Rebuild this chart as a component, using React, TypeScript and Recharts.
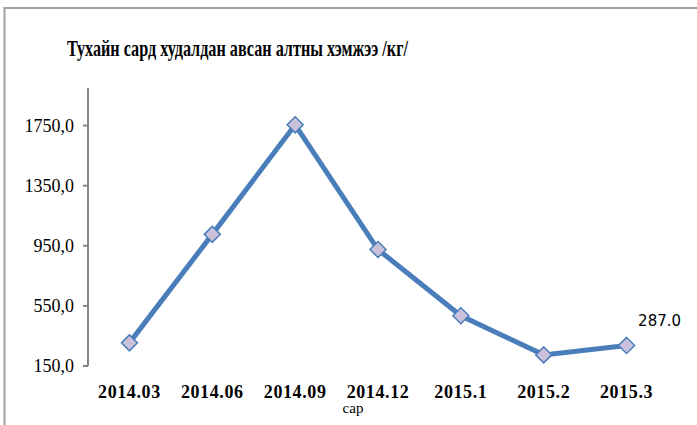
import React from 'react';
import { LineChart, Line, XAxis, YAxis, LabelList } from 'recharts';

const categories = ['2014.03', '2014.06', '2014.09', '2014.12', '2015.1', '2015.2', '2015.3'];
const values = [304, 1026, 1755, 925, 484, 224, 287];
const yTicks = [150, 550, 950, 1350, 1750];
const boundaryTicks = [0, 1, 2, 3, 4, 5, 6, 7];
const pointLabels = ['', '', '', '', '', '', '287.0'];
const title = 'Тухайн сард худалдан авсан алтны хэмжээ /кг/';
const xTitle = 'сар';

const data = categories.map((c, i) => ({ cat: c, value: values[i], lbl: pointLabels[i] }));

const LINE = '#4a7ebb';
const AXIS = '#868686';
const SERIF = '"Liberation Serif", "Times New Roman", serif';

const Diamond = (props: any) => {
  const { cx, cy } = props;
  if (cx == null || cy == null) return null;
  const r = 8;
  return (
    <polygon
      points={`${cx},${cy - r} ${cx + r},${cy} ${cx},${cy + r} ${cx - r},${cy}`}
      fill="#ccc1da"
      stroke={LINE}
      strokeWidth={1.5}
    />
  );
};

const fmtY = (v: number) => v.toFixed(1).replace('.', ',');

const PointLabel = (props: any) => {
  const { x, y, value } = props;
  if (!value) return null;
  return (
    <text x={x + 33} y={y - 19} textAnchor="middle" fontFamily='"DejaVu Sans", sans-serif' fontSize={15} fill="#000">
      {value}
    </text>
  );
};

export default function App() {
  const half = 580 / 7 / 2;
  return (
    <div style={{ position: 'absolute', left: 0, top: 0, width: 697, height: 425, background: '#fff' }}>
      <svg width={697} height={425} style={{ position: 'absolute', left: 0, top: 0 }}>
        <line x1={4.5} y1={7} x2={4.5} y2={425} stroke="#a0a0a0" strokeWidth={2} />
        <line x1={3.5} y1={8} x2={697} y2={8} stroke="#a0a0a0" strokeWidth={2} />
        <text x={67} y={56} fontFamily={SERIF} fontWeight="bold" fontSize={23} textLength={341} lengthAdjust="spacingAndGlyphs" fill="#000">
          {title}
        </text>
        <text x={353} y={413} textAnchor="middle" fontFamily={SERIF} fontSize={15} fill="#000">
          {xTitle}
        </text>
      </svg>
      <div style={{ position: 'absolute', left: 0, top: 0 }}>
        <LineChart width={697} height={425} data={data} margin={{ top: 88, right: 29, bottom: 19, left: 0 }}>
          <XAxis
            xAxisId="b"
            type="number"
            domain={[0, 7]}
            ticks={boundaryTicks}
            height={0}
            stroke={AXIS}
            strokeWidth={2}
            tickSize={5}
            tick={false}
            allowDataOverflow
          />
          <XAxis
            xAxisId="c"
            dataKey="cat"
            height={40}
            axisLine={false}
            tickLine={false}
            padding={{ left: half, right: half }}
            tickMargin={13}
            tick={{ fill: '#000', fontFamily: SERIF, fontWeight: 'bold', fontSize: 18, letterSpacing: 0.6 }}
            interval={0}
          />
          <YAxis
            width={88}
            domain={[150, 2000]}
            ticks={yTicks}
            tickFormatter={fmtY}
            stroke={AXIS}
            strokeWidth={2}
            tickSize={5}
            tickMargin={9}
            tick={{ fill: '#000', fontFamily: SERIF, fontSize: 18 }}
            allowDataOverflow
          />
          <Line
            xAxisId="c"
            dataKey="value"
            stroke={LINE}
            strokeWidth={5}
            dot={<Diamond />}
            activeDot={false}
            isAnimationActive={false}
          >
            <LabelList dataKey="lbl" content={<PointLabel />} />
          </Line>
        </LineChart>
      </div>
    </div>
  );
}
